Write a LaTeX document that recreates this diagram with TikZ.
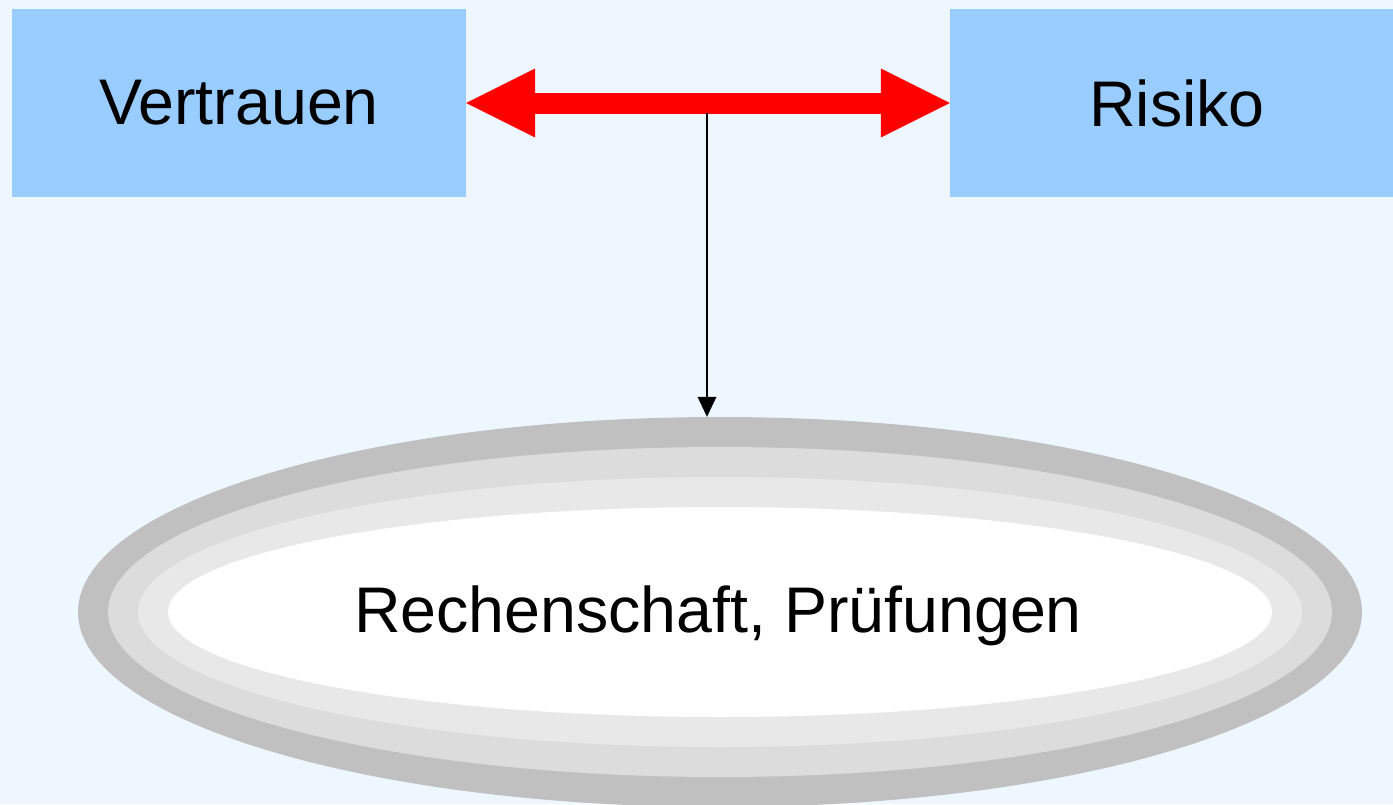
\documentclass[tikz,border=0pt]{standalone}
\usepackage{fontspec}
\setmainfont{Liberation Sans}
\usetikzlibrary{arrows.meta,shapes.geometric}
\definecolor{bgblue}{HTML}{EEF7FF}
\definecolor{boxblue}{HTML}{99CCFF}
\definecolor{ringA}{HTML}{C0C0C0}
\definecolor{ringB}{HTML}{DCDCDC}
\definecolor{ringC}{HTML}{E8E8E8}
\tikzset{
  bigfont/.style={font=\fontsize{64.5}{77}\selectfont},
  conceptbox/.style={rectangle, fill=boxblue, inner sep=0pt, minimum width=454pt, minimum height=188pt, bigfont},
  ring/.style={ellipse, inner sep=0pt},
  bigarrow/.style={draw=red, line width=21pt,
    {Triangle[length=69pt,width=69pt,line width=0pt]}-{Triangle[length=69pt,width=69pt,line width=0pt]}},
  thinarrow/.style={draw=black, line width=1.5pt, -{Triangle[length=20pt,width=19pt,line width=0pt]}}
}
\begin{document}
\begin{tikzpicture}[x=1pt,y=-1pt]
\useasboundingbox (0,0) rectangle (1393,804);
\clip (0,0) rectangle (1393,804);
\fill[bgblue] (0,0) rectangle (1393,804);
% boxes
\node[conceptbox] (vert) at (239,103) {Vertrauen};
\node[conceptbox] (risk) at (1177,103) {Risiko};
% ellipse rings
\node[ring, fill=ringA, minimum width=1284pt, minimum height=390pt] (ell) at (720,612) {};
\node[ring, fill=ringB, minimum width=1224pt, minimum height=330pt] (ellb) at (720,612) {};
\node[ring, fill=ringC, minimum width=1164pt, minimum height=270pt] (ellc) at (720,612) {};
\node[ring, fill=white, minimum width=1104pt, minimum height=210pt] (elld) at (720,612) {};
\node[bigfont, inner sep=0pt] (etext) at (718,616) {Rechenschaft, Prüfungen};
% arrows
\draw[bigarrow] (vert.east) -- (risk.west);
\coordinate (mid) at (707,113);
\draw[thinarrow] (mid) -- (mid |- ell.north);
\end{tikzpicture}
\end{document}
